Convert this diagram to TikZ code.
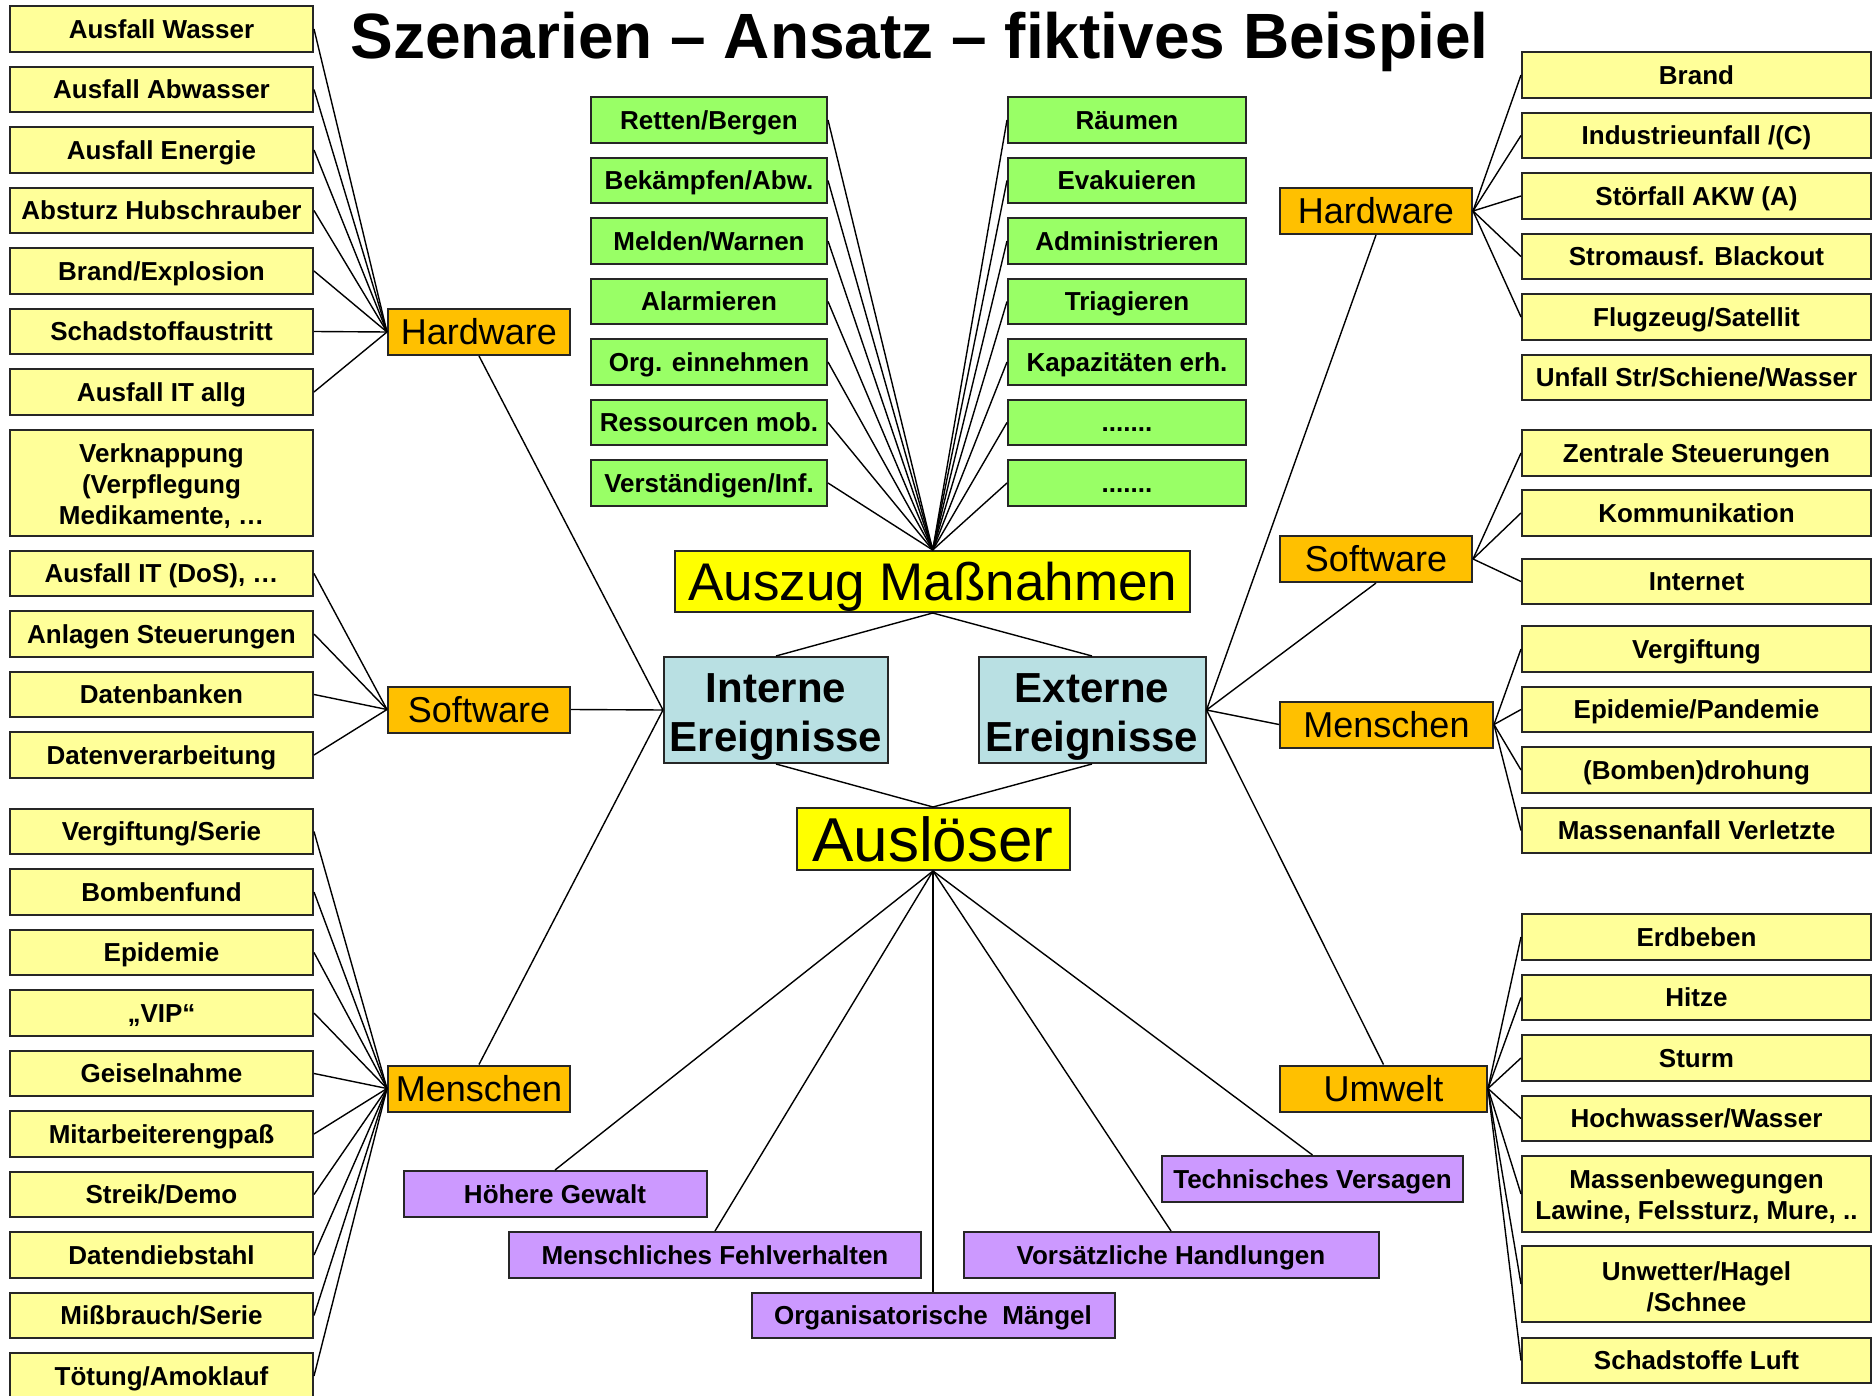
\documentclass[tikz,border=0pt]{standalone}
\usepackage{fontspec}
\setmainfont{Liberation Sans}
\usepackage{tikz}
\usetikzlibrary{positioning}
\definecolor{itemyellow}{RGB}{255,255,153}
\definecolor{huborange}{RGB}{255,192,0}
\definecolor{massgreen}{RGB}{153,255,102}
\definecolor{eventblue}{RGB}{185,224,227}
\definecolor{keyyellow}{RGB}{255,255,0}
\definecolor{causeviolet}{RGB}{204,153,255}
\tikzset{
  box/.style={draw=black!85, line width=1pt, inner sep=0pt, align=center},
  small/.style={font=\fontsize{13}{15.5}\selectfont\bfseries,
    text height=11.5pt, text depth=2.2pt},
  multi/.style={text height=, text depth=},
  item/.style={box, small, fill=itemyellow, minimum height=22.75pt},
  itemL/.style={item, minimum width=151.5pt},
  itemR/.style={item, minimum width=174.5pt},
  hub/.style={box, fill=huborange, minimum height=23pt,
    font=\fontsize{18}{20}\selectfont, text height=15.5pt, text depth=2.6pt},
  mass/.style={box, small, fill=massgreen, minimum height=22.75pt},
  event/.style={box, fill=eventblue, minimum height=53pt,
    font=\fontsize{21}{24.5}\selectfont\bfseries},
  key/.style={box, fill=keyyellow},
  cause/.style={box, small, fill=causeviolet, minimum height=23pt},
  link/.style={line width=0.7pt},
}

\begin{document}
\begin{tikzpicture}[x=0.5pt, y=-0.5pt]
  \useasboundingbox (0,0) rectangle (1876,1396);%
  \node[anchor=base, font=\fontsize{32}{36}\selectfont\bfseries] (title) at (919.5,59)
    {Szenarien – Ansatz – fiktives Beispiel};%
  % left side
  \foreach \t [count=\i] in {Ausfall Wasser, Ausfall Abwasser, Ausfall Energie,
      Absturz Hubschrauber, Brand/Explosion, Schadstoffaustritt, Ausfall IT allg}
    \node[itemL] (hl\i) at (161.5,{29+60.5*(\i-1)}) {\t};%
  \node[itemL, multi, minimum height=53pt] (hl8) at (161.5,483)
    {\rule{0pt}{12.5pt}Verknappung\\(Verpflegung\\Medikamente, …};%
  \node[itemL] (sl1) at (161.5,573.5) {Ausfall IT (DoS), …};%
  \foreach \t [count=\i from 2] in {Anlagen Steuerungen, Datenbanken, Datenverarbeitung}
    \node[itemL] (sl\i) at (161.5,{573.5+60.5*(\i-1)}) {\t};%
  \foreach \t [count=\i] in {Vergiftung/Serie, Bombenfund, Epidemie, „VIP“, Geiselnahme,
      Mitarbeiterengpaß, Streik/Demo, Datendiebstahl, Mißbrauch/Serie, Tötung/Amoklauf}
    \node[itemL] (ml\i) at (161.5,{831.5+60.5*(\i-1)}) {\t};%
  \node[hub, minimum width=91pt] (hwL) at (479,332) {Hardware};%
  \node[hub, minimum width=91pt] (swL) at (479,709.5) {Software};%
  \node[hub, minimum width=91pt] (meL) at (479,1088.5) {Menschen};%
  % right side
  \foreach \t [count=\i] in {Brand, Industrieunfall /(C), Störfall AKW (A),
      Stromausf. Blackout, Flugzeug/Satellit, Unfall Str/Schiene/Wasser}
    \node[itemR] (hr\i) at (1696.5,{75+60.5*(\i-1)}) {\t};%
  \node[itemR] (sr1) at (1696.5,453) {Zentrale Steuerungen};%
  \node[itemR] (sr2) at (1696.5,513) {Kommunikation};%
  \node[itemR] (sr3) at (1696.5,581.5) {Internet};%
  \foreach \t [count=\i] in {Vergiftung, Epidemie/Pandemie, (Bomben)drohung,
      Massenanfall Verletzte}
    \node[itemR] (mr\i) at (1696.5,{649+60.5*(\i-1)}) {\t};%
  \foreach \t [count=\i] in {Erdbeben, Hitze, Sturm, Hochwasser/Wasser}
    \node[itemR] (ur\i) at (1696.5,{937+60.5*(\i-1)}) {\t};%
  \node[itemR, multi, minimum height=38pt] (ur5) at (1696.5,1194)
    {\rule{0pt}{12.5pt}Massenbewegungen\\Lawine, Felssturz, Mure, ..};%
  \node[itemR, multi, minimum height=38pt] (ur6) at (1696.5,1284)
    {\rule{0pt}{12.5pt}Unwetter/Hagel\\/Schnee};%
  \node[itemR] (ur7) at (1696.5,1360.5) {Schadstoffe Luft};%
  \node[hub, minimum width=96pt] (hwR) at (1376,211) {Hardware};%
  \node[hub, minimum width=96pt] (swR) at (1376,559) {Software};%
  \node[hub, minimum width=106.5pt] (meR) at (1386.5,724.5) {Menschen};%
  \node[hub, minimum width=103.5pt] (uwR) at (1383.5,1088.5) {Umwelt};%
  % Massnahmen
  \foreach \t [count=\i] in {Retten/Bergen, Bekämpfen/Abw., Melden/Warnen, Alarmieren,
      Org. einnehmen, Ressourcen mob., Verständigen/Inf.}
    \node[mass, minimum width=118pt] (gl\i) at (709,{120+60.5*(\i-1)}) {\t};%
  \foreach \t [count=\i] in {Räumen, Evakuieren, Administrieren, Triagieren,
      Kapazitäten erh.}
    \node[mass, minimum width=119pt] (gr\i) at (1127,{120+60.5*(\i-1)}) {\t};%
  \node[mass, minimum width=119pt] (gr6) at (1127,422.5) {.......};%
  \node[mass, minimum width=119pt] (gr7) at (1127,483) {.......};%
  \node[key, minimum width=257.5pt, minimum height=30.5pt, text height=23pt,
    text depth=4pt, font=\fontsize{26.5}{30}\selectfont] (auszug) at (932.7,581.5)
    {Auszug Maßnahmen};%
  \node[event, minimum width=112pt] (intern) at (776,710)
    {\rule{0pt}{21.3pt}Interne\\Ereignisse};%
  \node[event, minimum width=113.5pt] (extern) at (1092,710)
    {\rule{0pt}{21.3pt}Externe\\Ereignisse};%
  \node[key, minimum width=136.5pt, minimum height=31pt, text height=26pt,
    text depth=3.8pt, font=\fontsize{31}{34}\selectfont] (ausloeser) at (933,839)
    {Auslöser};%
  % Ursachen
  \node[cause, minimum width=151.5pt] (p1) at (555,1194) {Höhere Gewalt};%
  \node[cause, minimum width=206pt] (p2) at (715,1255) {Menschliches Fehlverhalten};%
  \node[cause, minimum width=181.5pt, minimum height=22.5pt] (p3) at (933,1315)
    {Organisatorische\ \ Mängel};%
  \node[cause, minimum width=207.5pt] (p4) at (1171,1255) {Vorsätzliche Handlungen};%
  \node[cause, minimum width=150.5pt] (p5) at (1312.5,1179) {Technisches Versagen};%
  % connectors
  \foreach \i in {1,...,7} \draw[link] (hl\i.east) -- (hwL.west);%
  \foreach \i in {1,...,4} \draw[link] (sl\i.east) -- (swL.west);%
  \foreach \i in {1,...,10} \draw[link] (ml\i.east) -- (meL.west);%
  \foreach \i in {1,...,5} \draw[link] (hwR.east) -- (hr\i.west);%
  \foreach \i in {1,2,3} \draw[link] (swR.east) -- (sr\i.west);%
  \foreach \i in {1,...,4} \draw[link] (meR.east) -- (mr\i.west);%
  \foreach \i in {1,...,7} \draw[link] (uwR.east) -- (ur\i.west);%
  \foreach \i in {1,...,7}
    \draw[link] (gl\i.east) -- (auszug.north) (gr\i.west) -- (auszug.north);%
  \draw[link] (auszug.south) -- (intern.north) (auszug.south) -- (extern.north);%
  \draw[link] (intern.south) -- (ausloeser.north) (extern.south) -- (ausloeser.north);%
  \draw[link] (intern.west) -- (hwL.south) (intern.west) -- (swL.east)
    (intern.west) -- (meL.north);%
  \draw[link] (extern.east) -- (hwR.south) (extern.east) -- (swR.south)
    (extern.east) -- (meR.west) (extern.east) -- (uwR.north);%
  \foreach \i in {1,...,5} \draw[link] (ausloeser.south) -- (p\i.north);%
\end{tikzpicture}
\end{document}
